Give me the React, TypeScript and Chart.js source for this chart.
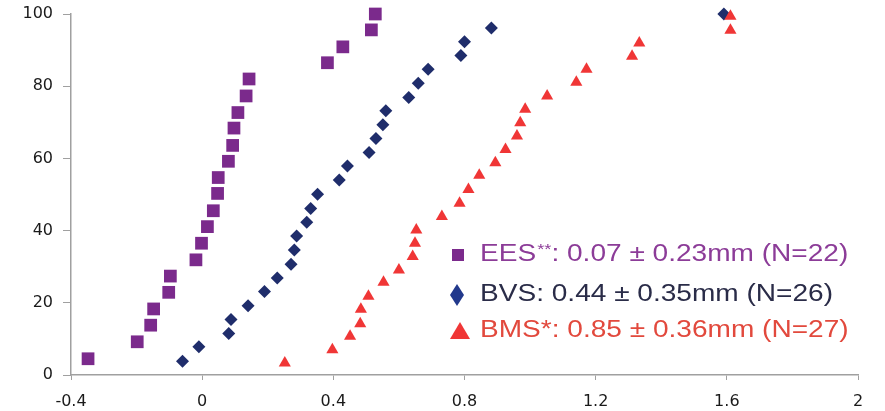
import React, { useEffect, useRef } from "react";
import { Chart, registerables } from "chart.js";

Chart.register(...registerables);

const X_TICKS = [-0.4, 0, 0.4, 0.8, 1.2, 1.6, 2];
const Y_TICKS = [0, 20, 40, 60, 80, 100];

const EES_X = [-0.348, -0.198, -0.157, -0.148, -0.102, -0.097, -0.019, -0.002, 0.016, 0.034, 0.047, 0.049, 0.080, 0.093, 0.097, 0.109, 0.134, 0.143, 0.382, 0.429, 0.516, 0.528];
const EES_Y = [4.5, 9.2, 13.8, 18.3, 22.9, 27.4, 31.9, 36.5, 41.1, 45.5, 50.3, 54.7, 59.2, 63.6, 68.4, 72.7, 77.3, 82.0, 86.5, 90.9, 95.6, 100];

const BVS_X = [-0.060, -0.010, 0.081, 0.088, 0.140, 0.190, 0.229, 0.271, 0.281, 0.288, 0.319, 0.331, 0.352, 0.418, 0.443, 0.509, 0.530, 0.551, 0.560, 0.630, 0.659, 0.689, 0.789, 0.800, 0.882, 1.591];
const BVS_Y = [3.8, 7.8, 11.5, 15.4, 19.2, 23.1, 26.9, 30.7, 34.6, 38.5, 42.3, 46.1, 50.1, 54.0, 57.9, 61.6, 65.5, 69.3, 73.2, 76.9, 80.8, 84.7, 88.5, 92.3, 96.1, 100];

const BMS_X = [0.252, 0.397, 0.451, 0.482, 0.484, 0.507, 0.553, 0.600, 0.642, 0.649, 0.653, 0.731, 0.785, 0.812, 0.845, 0.894, 0.925, 0.960, 0.970, 0.985, 1.052, 1.141, 1.172, 1.311, 1.333, 1.611, 1.611];
const BMS_Y = [3.3, 7.0, 10.7, 14.2, 18.2, 21.8, 25.7, 29.1, 32.8, 36.5, 40.2, 43.9, 47.6, 51.4, 55.3, 58.8, 62.5, 66.2, 69.9, 73.6, 77.3, 81.1, 84.7, 88.3, 92.0, 95.5, 99.4];

const LEGEND_MAIN = ["EES", "BVS: 0.44 \u00b1 0.35mm (N=26)", "BMS*: 0.85 \u00b1 0.36mm (N=27)"];
const EES_SUP = "**";
const EES_REST = ": 0.07 \u00b1 0.23mm (N=22)";

const C_EES = "#7b2a8c";
const C_BVS = "#1f2d6b";
const C_BMS = "#f03636";
const T_EES = "#8c3c98";
const T_BVS = "#2a2c48";
const T_BMS = "#e2493d";

const FAMILY = "'Liberation Sans', Arial, sans-serif";
const TICK_FAMILY = "'DejaVu Sans', sans-serif";

const pts = (xs: number[], ys: number[]) => xs.map((x, i) => ({ x, y: ys[i] }));

const legendPlugin = {
  id: "customLegend",
  afterDraw(chart: any) {
    const ctx = chart.ctx as CanvasRenderingContext2D;
    ctx.save();
    const font = "23px " + FAMILY;
    const sx = 1.22;
    const textX = 480;
    const rows = [255, 295, 331];

    ctx.fillStyle = C_EES;
    ctx.fillRect(452, rows[0] - 6, 12, 12);
    ctx.fillStyle = "#22398c";
    ctx.beginPath();
    ctx.moveTo(457, rows[1] - 11);
    ctx.lineTo(464, rows[1]);
    ctx.lineTo(457, rows[1] + 11);
    ctx.lineTo(450, rows[1]);
    ctx.closePath();
    ctx.fill();
    ctx.fillStyle = C_BMS;
    ctx.beginPath();
    ctx.moveTo(460, rows[2] - 9);
    ctx.lineTo(470, rows[2] + 8);
    ctx.lineTo(450, rows[2] + 8);
    ctx.closePath();
    ctx.fill();

    const drawText = (txt: string, x: number, y: number, color: string, f: string) => {
      ctx.save();
      ctx.translate(x, y);
      ctx.scale(sx, 1);
      ctx.font = f;
      ctx.fillStyle = color;
      ctx.textBaseline = "middle";
      ctx.textAlign = "left";
      ctx.fillText(txt, 0, 0);
      const w = ctx.measureText(txt).width * sx;
      ctx.restore();
      return w;
    };

    let x = textX;
    x += drawText(LEGEND_MAIN[0], x, rows[0], T_EES, font);
    x += drawText(EES_SUP, x + 1, rows[0] - 5, T_EES, "15px " + FAMILY) + 1;
    drawText(EES_REST, x, rows[0], T_EES, font);
    drawText(LEGEND_MAIN[1], textX, rows[1], T_BVS, font);
    drawText(LEGEND_MAIN[2], textX, rows[2], T_BMS, font);
    ctx.restore();
  },
};

export default function App() {
  const ref = useRef<HTMLCanvasElement>(null);
  useEffect(() => {
    if (!ref.current) return;
    const tickFont = { size: 16, family: TICK_FAMILY };
    const chart = new Chart(ref.current, {
      type: "scatter",
      data: {
        datasets: [
          {
            label: "BMS",
            data: pts(BMS_X, BMS_Y),
            pointStyle: "triangle",
            pointRadius: 7,
            backgroundColor: C_BMS,
            borderColor: C_BMS,
            borderWidth: 0,
          },
          {
            label: "BVS",
            data: pts(BVS_X, BVS_Y),
            pointStyle: "rectRot",
            pointRadius: 6.5,
            backgroundColor: C_BVS,
            borderColor: C_BVS,
            borderWidth: 0,
          },
          {
            label: "EES",
            data: pts(EES_X, EES_Y),
            pointStyle: "rect",
            pointRadius: 9,
            backgroundColor: C_EES,
            borderColor: C_EES,
            borderWidth: 0,
          },
        ],
      },
      options: {
        animation: false,
        responsive: false,
        maintainAspectRatio: false,
        clip: false as any,
        layout: { padding: { top: 14, right: 27, left: 0, bottom: 0 } },
        plugins: { legend: { display: false }, tooltip: { enabled: false } },
        scales: {
          x: {
            type: "linear",
            min: -0.4,
            max: 2,
            afterBuildTicks: (s: any) => {
              s.ticks = X_TICKS.map((v) => ({ value: v }));
            },
            afterFit: (s: any) => {
              s.height = 36;
              s.paddingLeft = 0;
              s.paddingRight = 0;
            },
            ticks: {
              color: "#1a1a1a",
              font: tickFont,
              padding: 12,
              maxRotation: 0,
              callback: (v: any) => String(Number(Number(v).toFixed(1))),
            },
            grid: { drawOnChartArea: false, drawTicks: true, tickLength: 5, color: "#a0a0a0" },
            border: { color: "#a0a0a0", width: 1.5 },
          },
          y: {
            type: "linear",
            min: 0,
            max: 100,
            afterBuildTicks: (s: any) => {
              s.ticks = Y_TICKS.map((v) => ({ value: v }));
            },
            afterFit: (s: any) => {
              s.width = 71;
              s.paddingTop = 0;
              s.paddingBottom = 0;
            },
            ticks: {
              color: "#1a1a1a",
              font: tickFont,
              padding: 10,
              callback: (v: any) => String(v),
            },
            grid: { drawOnChartArea: false, drawTicks: true, tickLength: 8, color: "#a0a0a0" },
            border: { color: "#a0a0a0", width: 1.5 },
          },
        },
      },
      plugins: [legendPlugin],
    } as any);
    return () => chart.destroy();
  }, []);
  return (
    <div style={{ position: "fixed", left: 0, top: 0, width: 885, height: 411, background: "#fff" }}>
      <canvas ref={ref} width={885} height={411} style={{ width: 885, height: 411, display: "block" }} />
    </div>
  );
}
